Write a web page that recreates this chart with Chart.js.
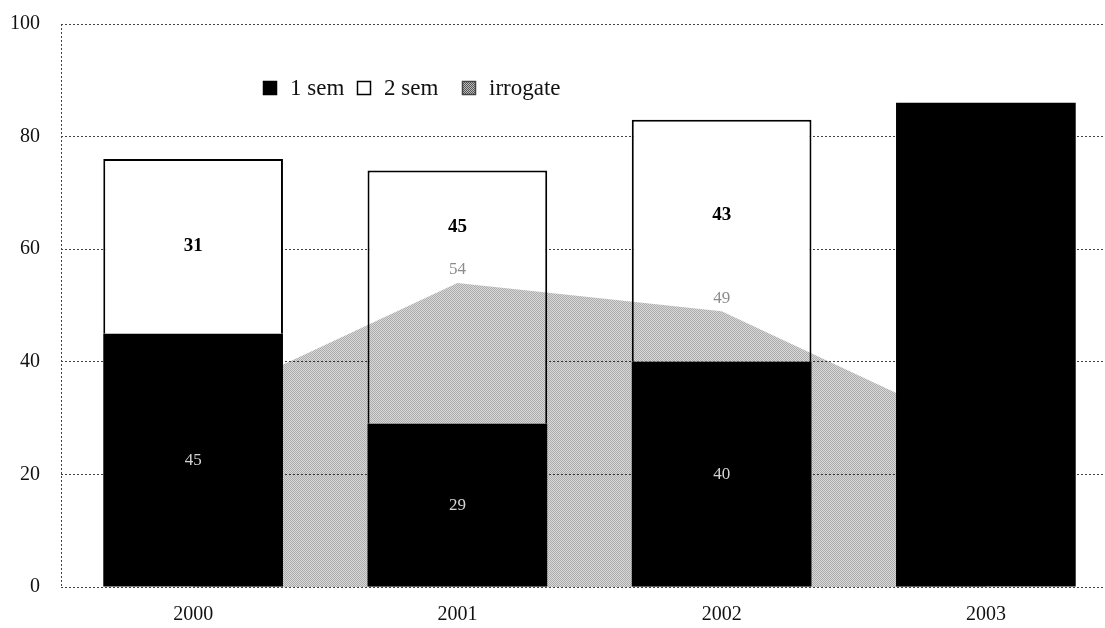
<!DOCTYPE html>
<html>
<head>
<meta charset="utf-8">
<script src="https://cdn.jsdelivr.net/npm/chart.js@4.4.0/dist/chart.umd.min.js"></script>
<style>
    html, body { margin: 0; padding: 0; background: #fff; overflow: hidden; }
    #wrap { position: relative; width: 1120px; height: 628px; }
</style>
</head>
<body>
<div id="wrap"><canvas id="chart"></canvas></div>
<script>
// Values
const years = ['2000', '2001', '2002', '2003'];
const semOne = [45, 29, 40, 86];
const semTwo = [31, 45, 43, null];
const irrogate = [32, 54, 49, 27];
const semOneLabels = ['45', '29', '40', ''];
const yTicks = [0, 20, 40, 60, 80, 100];

const serif = '"Liberation Serif", "DejaVu Serif", serif';

// Small halftone-like pattern for the grey area
function makePattern(a, b) {
    const c = document.createElement('canvas');
    c.width = 2;
    c.height = 2;
    const g = c.getContext('2d');
    g.fillStyle = b;
    g.fillRect(0, 0, 2, 2);
    g.fillStyle = a;
    g.fillRect(0, 0, 1, 1);
    g.fillRect(1, 1, 1, 1);
    return g.createPattern(c, 'repeat');
}
const areaPattern = makePattern('#acacac', '#d8d8d8');
const legendPattern = makePattern('#555', '#bbb');

// Area is laid over the bars with "multiply", so it vanishes on black and greys the white parts
const layers = {
    id: 'layers',
    afterDatasetDraw(chart, args) {
        const metas = chart.getSortedVisibleDatasetMetas();
        const ctx = chart.ctx;
        if (metas.length > 1 && args.meta === metas[1]) {
            ctx.globalCompositeOperation = 'multiply';
        }
        if (args.meta === metas[0]) {
            ctx.save();
            ctx.font = '17px ' + serif;
            ctx.fillStyle = '#8c8c8c';
            ctx.textAlign = 'center';
            ctx.textBaseline = 'middle';
            args.meta.data.forEach((pt, i) => {
                ctx.fillText(String(irrogate[i]), pt.x, pt.y - 13);
            });
            ctx.restore();
            ctx.globalCompositeOperation = 'source-over';
        }
    },
    afterDatasetsDraw(chart) {
        const ctx = chart.ctx;
        const y = chart.scales.y;
        const bars = chart.getDatasetMeta(0).data;
        ctx.save();
        ctx.textAlign = 'center';
        ctx.textBaseline = 'middle';
        // 1 sem labels
        ctx.font = '17px ' + serif;
        ctx.fillStyle = '#d4d4d4';
        bars.forEach((bar, i) => {
            if (!semOneLabels[i]) return;
            ctx.fillText(semOneLabels[i], bar.x, y.getPixelForValue(semOne[i] / 2));
        });
        // 2 sem labels, centred in the part left white
        ctx.font = 'bold 19px ' + serif;
        ctx.fillStyle = '#000';
        bars.forEach((bar, i) => {
            if (semTwo[i] == null) return;
            const lo = Math.max(semOne[i], irrogate[i]);
            const hi = semOne[i] + semTwo[i];
            ctx.fillText(String(semTwo[i]), bar.x, y.getPixelForValue((lo + hi) / 2));
        });
        ctx.restore();
    },
    afterDraw(chart) {
        const ctx = chart.ctx;
        const ds = chart.data.datasets;
        const xs = [263, 357, 462];
        const cy = 88;
        ctx.save();
        ctx.font = '23px ' + serif;
        ctx.textBaseline = 'middle';
        ctx.textAlign = 'left';
        ds.forEach((d, i) => {
            const x = xs[i];
            ctx.fillStyle = d.legendFill;
            ctx.fillRect(x, cy - 7, 14, 14);
            ctx.lineWidth = 1.5;
            ctx.strokeStyle = d.legendStroke;
            ctx.strokeRect(x + 0.5, cy - 6.5, 13, 13);
            ctx.fillStyle = '#111';
            ctx.fillText(d.label, x + 27, cy + 1);
        });
        ctx.restore();
    }
};

new Chart(document.getElementById('chart'), {
    data: {
        labels: years,
        datasets: [{
            type: 'bar',
            label: '1 sem',
            data: semOne,
            stack: 'sem',
            backgroundColor: '#000',
            borderWidth: 0,
            legendFill: '#000',
            legendStroke: '#000'
        }, {
            type: 'bar',
            label: '2 sem',
            data: semTwo,
            stack: 'sem',
            backgroundColor: '#fff',
            borderColor: '#000',
            borderWidth: 2,
            legendFill: '#fff',
            legendStroke: '#000'
        }, {
            type: 'line',
            label: 'irrogate',
            data: irrogate,
            stack: 'irr',
            order: -1,
            fill: 'origin',
            backgroundColor: areaPattern,
            borderWidth: 0,
            pointRadius: 0,
            tension: 0,
            legendFill: legendPattern,
            legendStroke: '#444'
        }]
    },
    options: {
        responsive: true,
        maintainAspectRatio: false,
        animation: false,
        layout: { padding: { left: 0, right: 2, top: 24, bottom: 0 } },
        datasets: {
            bar: { barPercentage: 0.68, categoryPercentage: 1 }
        },
        plugins: {
            legend: { display: false },
            tooltip: { enabled: false }
        },
        scales: {
            x: {
                stacked: true,
                afterFit: s => { s.height = 41; },
                border: { display: false, dash: [2, 2] },
                grid: {
                    drawTicks: false,
                    color: c => c.index === 0 ? '#444' : 'rgba(0,0,0,0)'
                },
                ticks: {
                    padding: 16,
                    color: '#111',
                    font: { family: serif, size: 20 }
                }
            },
            y: {
                stacked: true,
                min: 0,
                max: 100,
                afterFit: s => { s.width = 61; },
                afterBuildTicks: s => { s.ticks = yTicks.map(v => ({ value: v })); },
                border: { display: false, dash: [2, 2] },
                grid: { color: '#444', lineWidth: 1, tickLength: 19, tickColor: 'rgba(0,0,0,0)' },
                ticks: {
                    padding: 2,
                    color: '#111',
                    font: { family: serif, size: 20 }
                }
            }
        }
    },
    plugins: [layers]
});
</script>
</body>
</html>
